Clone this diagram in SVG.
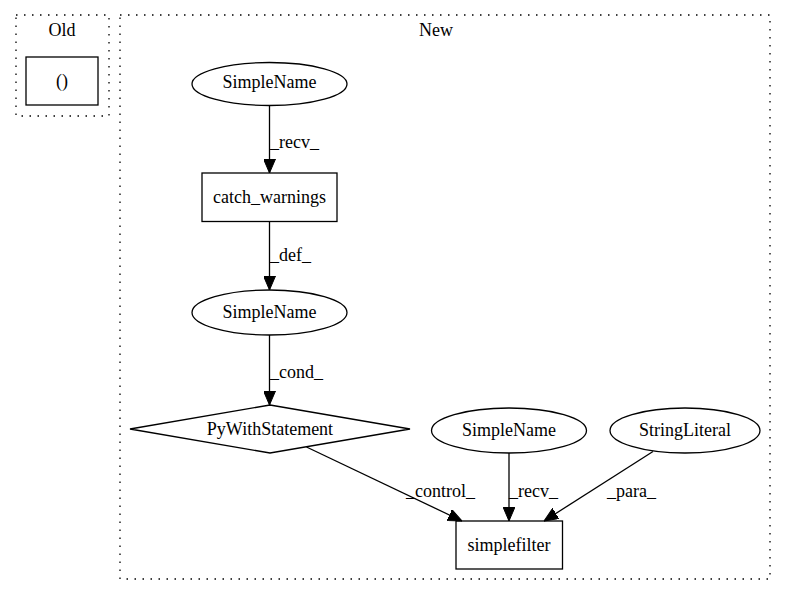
<svg xmlns="http://www.w3.org/2000/svg" width="787" height="596" viewBox="0 0 787 596">
<defs>
<style>
text{font-family:"Liberation Serif","Times New Roman",serif;font-size:18px;fill:#000}
.c{text-anchor:middle}
.cl{fill:none;stroke:#000;stroke-width:1.3;stroke-dasharray:1.5,6.5}
.n{fill:none;stroke:#000;stroke-width:1.3}
.e{fill:none;stroke:#000;stroke-width:1.3}
</style>
<marker id="ah" markerUnits="userSpaceOnUse" markerWidth="14" markerHeight="12" viewBox="0 0 14 12" refX="14" refY="6" orient="auto">
<path d="M0,0 L14,6 L0,12 Z" fill="#000" stroke="#000" stroke-width="1"/>
</marker>
</defs>
<rect width="787" height="596" fill="#fff"/>
<g id="cluster_old">
<rect class="cl" x="16" y="15" width="93" height="101"/>
<text class="c" x="62" y="36">Old</text>
</g>
<g id="cluster_new">
<rect class="cl" x="120" y="15" width="650" height="564"/>
<text class="c" x="436" y="36">New</text>
</g>
<g id="old_paren">
<rect class="n" x="26" y="57" width="72" height="48"/>
<text class="c" x="62" y="87">()</text>
</g>
<g id="sn1">
<ellipse class="n" cx="269.5" cy="84" rx="77.5" ry="21.5"/>
<text class="c" x="269.5" y="88">SimpleName</text>
</g>
<g id="catch_warnings">
<rect class="n" x="202" y="173" width="135" height="48.5"/>
<text class="c" x="269.5" y="203">catch_warnings</text>
</g>
<g id="sn2">
<ellipse class="n" cx="269.5" cy="312.5" rx="77.5" ry="22.5"/>
<text class="c" x="269.5" y="318">SimpleName</text>
</g>
<g id="pywith">
<polygon class="n" points="270,405 410,429 270,453 130,429"/>
<text class="c" x="270" y="435">PyWithStatement</text>
</g>
<g id="sn3">
<ellipse class="n" cx="509" cy="430.5" rx="77.5" ry="22.5"/>
<text class="c" x="509" y="436">SimpleName</text>
</g>
<g id="stringliteral">
<ellipse class="n" cx="685" cy="430.5" rx="75" ry="22.5"/>
<text class="c" x="685" y="436">StringLiteral</text>
</g>
<g id="simplefilter">
<rect class="n" x="456" y="521" width="106.5" height="48"/>
<text class="c" x="509" y="551">simplefilter</text>
</g>
<g id="edges">
<line class="e" x1="269.5" y1="105.5" x2="269.5" y2="173" marker-end="url(#ah)"/>
<text x="270" y="148">_recv_</text>
<line class="e" x1="269.5" y1="221.5" x2="269.5" y2="290" marker-end="url(#ah)"/>
<text x="270" y="261">_def_</text>
<line class="e" x1="269.5" y1="335" x2="269.5" y2="405" marker-end="url(#ah)"/>
<text x="270" y="378">_cond_</text>
<line class="e" x1="306.5" y1="447" x2="462" y2="521" marker-end="url(#ah)"/>
<text x="406" y="497">_control_</text>
<line class="e" x1="509" y1="453" x2="509" y2="521" marker-end="url(#ah)"/>
<text x="509" y="497">_recv_</text>
<line class="e" x1="653" y1="451.5" x2="544" y2="521" marker-end="url(#ah)"/>
<text x="607" y="497">_para_</text>
</g>
</svg>
